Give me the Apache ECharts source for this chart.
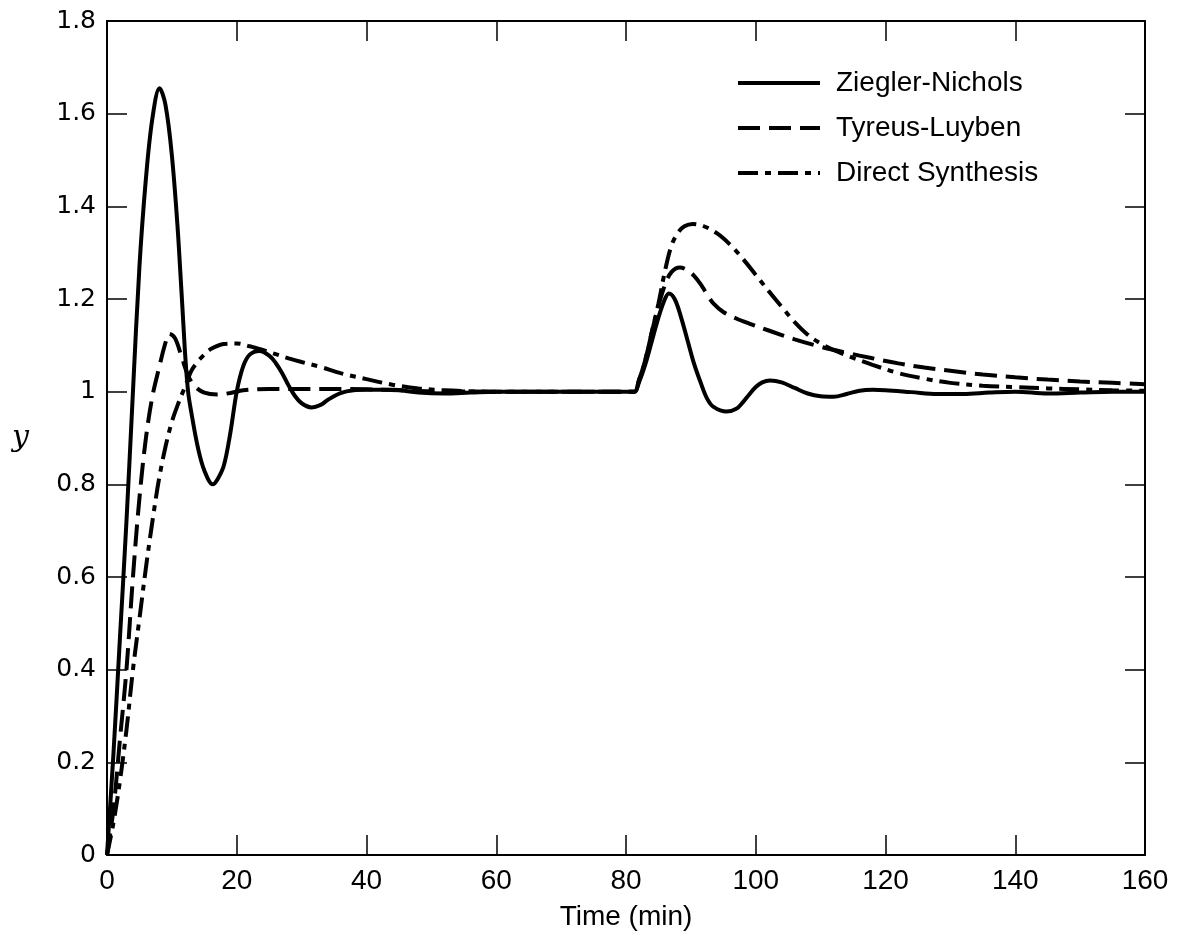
<!doctype html>
<html>
<head>
	<meta charset="utf-8">
	<title>PID tuning step responses</title>
	<script src="https://cdn.jsdelivr.net/npm/echarts@6.0.0/dist/echarts.min.js"></script>
	<style>
		html, body {margin:0; padding:0; background:#fff;}
		#main {width:1180px; height:937px;}
	</style>
</head>
<body>
	<div id="main"></div>
<script>
	"use strict";
	// series names (legend)
	var names = ['Ziegler-Nichols', 'Tyreus-Luyben', 'Direct Synthesis'];

	// Ziegler-Nichols
	var znT = [0, 1, 2, 3, 4, 5, 6, 7, 8.1, 9, 10, 11, 12, 12.5, 13, 14, 15, 16.3, 17, 18, 19, 20, 21, 22, 23.5, 25, 26, 27, 28, 29, 30, 31.5, 33, 34, 36, 38, 40, 44, 48, 52, 56, 60, 70, 80,
		81.3, 82, 83, 84, 85, 86, 86.6, 87.5, 88.5, 89.5, 90.5, 91.5, 92.5, 93.5, 95.5, 97, 98, 99, 100, 101, 102.2, 104, 106, 108, 110, 112, 114, 116, 118, 120, 124, 128, 132, 136, 140, 145, 150, 155, 160];
	var znY = [0, 0.22, 0.47, 0.72, 1.0, 1.27, 1.46, 1.59, 1.655, 1.62, 1.51, 1.33, 1.09, 1.0, 0.955, 0.88, 0.83, 0.8, 0.81, 0.84, 0.91, 1.0, 1.055, 1.08, 1.088, 1.078, 1.062, 1.04, 1.013, 0.99, 0.975, 0.966, 0.972, 0.982, 0.997, 1.003, 1.004, 1.004, 0.998, 0.996, 0.998, 1.0, 1.0, 1.0,
		1.0, 1.02, 1.06, 1.11, 1.16, 1.2, 1.212, 1.2, 1.16, 1.11, 1.06, 1.02, 0.985, 0.967, 0.957, 0.963, 0.977, 0.994, 1.01, 1.02, 1.024, 1.02, 1.008, 0.996, 0.99, 0.989, 0.995, 1.002, 1.004, 1.003, 0.999, 0.995, 0.995, 0.998, 1.0, 0.996, 0.998, 1.0, 1.0];

	// Tyreus-Luyben
	var tlT = [0, 1, 2, 3, 4, 5, 6, 7, 8, 9, 9.6, 10.5, 11.5, 12.5, 13.5, 15, 17, 19, 21, 25, 30, 35, 40, 45, 50, 60, 70, 80,
		81.3, 82, 83, 84, 85, 86, 87, 88.3, 89.5, 90.5, 91.5, 92.5, 93.5, 95, 97, 99, 102, 106, 110, 114, 118, 122, 126, 130, 135, 140, 145, 150, 155, 160];
	var tlY = [0, 0.1, 0.25, 0.4, 0.6, 0.77, 0.9, 0.99, 1.05, 1.105, 1.125, 1.115, 1.075, 1.035, 1.012, 0.998, 0.994, 0.997, 1.003, 1.006, 1.006, 1.006, 1.005, 1.003, 1.001, 1.0, 1.0, 1.0,
		1.0, 1.025, 1.07, 1.13, 1.185, 1.23, 1.258, 1.268, 1.262, 1.25, 1.232, 1.21, 1.19, 1.172, 1.158, 1.147, 1.132, 1.113, 1.097, 1.084, 1.072, 1.061, 1.052, 1.045, 1.037, 1.031, 1.026, 1.022, 1.019, 1.016];

	// Direct Synthesis
	var dsT = [0, 1, 2, 3, 4, 5, 6, 7, 8, 9, 10, 11, 12, 13, 14, 15, 16, 18, 20, 22, 24, 26, 28, 30, 33, 36, 40, 44, 48, 52, 56, 60, 70, 80,
		81.3, 82, 83, 84, 85, 86, 87, 88, 89, 90.3, 92, 94, 96, 98, 100, 102, 104, 106, 108, 110, 112, 115, 118, 122, 126, 130, 135, 140, 145, 150, 155, 160];
	var dsY = [0, 0.07, 0.16, 0.27, 0.4, 0.51, 0.62, 0.72, 0.81, 0.88, 0.935, 0.975, 1.01, 1.045, 1.065, 1.08, 1.092, 1.103, 1.104, 1.098, 1.09, 1.081, 1.072, 1.064, 1.053, 1.04, 1.027, 1.015, 1.007, 1.003, 1.001, 1.0, 1.0, 1.0,
		1.0, 1.025, 1.07, 1.13, 1.19, 1.26, 1.315, 1.343, 1.357, 1.362, 1.357, 1.342, 1.318, 1.287, 1.252, 1.217, 1.183, 1.15, 1.123, 1.104, 1.09, 1.073, 1.058, 1.04, 1.028, 1.019, 1.013, 1.01, 1.007, 1.005, 1.003, 1.002];

	// axis ticks
	var xTicks = [0, 20, 40, 60, 80, 100, 120, 140, 160];
	var yTicks = [0, 0.2, 0.4, 0.6, 0.8, 1, 1.2, 1.4, 1.6, 1.8];

	function pairs(t, y){
		var out = [];
		for(let i=0; i<t.length; i++){
			out.push([t[i], y[i]]);
		}
		return out;
	}

	function axisLine(){
		return {show: true, onZero: false, lineStyle: {color: '#000', width: 2}};
	}
	function tick(){
		return {show: true, inside: true, length: 20, lineStyle: {color: '#000', width: 1.5}};
	}

	function xAx(pos, labels){
		return {
			type: 'value', position: pos,
			min: xTicks[0], max: xTicks[xTicks.length-1], interval: 20,
			axisLine: axisLine(), axisTick: tick(), splitLine: {show: false},
			axisLabel: {show: labels, color: '#000', fontFamily: 'Liberation Sans', fontSize: 28, margin: 12},
			name: labels ? 'Time (min)' : '', nameLocation: 'middle', nameGap: 48,
			nameTextStyle: {color: '#000', fontFamily: 'Liberation Sans', fontSize: 28}
		};
	}
	function yAx(pos, labels){
		return {
			type: 'value', position: pos,
			min: yTicks[0], max: yTicks[yTicks.length-1], interval: 0.2,
			axisLine: axisLine(), axisTick: tick(), splitLine: {show: false},
			axisLabel: {show: labels, color: '#000', fontFamily: 'DejaVu Sans', fontSize: 25, margin: 11},
			name: labels ? 'y' : '', nameLocation: 'middle', nameGap: 78, nameRotate: 0,
			nameTextStyle: {color: '#000', fontFamily: 'DejaVu Serif', fontStyle: 'italic', fontSize: 30}
		};
	}

	function line(name, t, y, type){
		return {
			name: name, type: 'line', xAxisIndex: 0, yAxisIndex: 0,
			data: pairs(t, y), symbol: 'none', smooth: 0.35,
			lineStyle: {color: '#000', width: 4, type: type},
			itemStyle: {color: '#000'},
			animation: false
		};
	}

	var myChart = echarts.init(document.getElementById("main"));
	myChart.setOption({
		backgroundColor: '#fff',
		animation: false,
		grid: {left: 107, right: 35, top: 21, bottom: 82, containLabel: false, outerBoundsMode: 'none'},
		legend: {
			data: names, orient: 'vertical', left: 731, top: 64,
			itemWidth: 82, itemHeight: 28, itemGap: 17,
			itemStyle: {opacity: 0},
			lineStyle: {width: 4},
			textStyle: {color: '#000', fontFamily: 'Liberation Sans', fontSize: 28, padding: [0, 0, 0, 11]}
		},
		xAxis: [xAx('bottom', true), xAx('top', false)],
		yAxis: [yAx('left', true), yAx('right', false)],
		series: [
			line(names[0], znT, znY, 'solid'),
			line(names[1], tlT, tlY, [22, 9]),
			line(names[2], dsT, dsY, [20, 7, 6, 7])
		]
	});
</script>
</body>
</html>
